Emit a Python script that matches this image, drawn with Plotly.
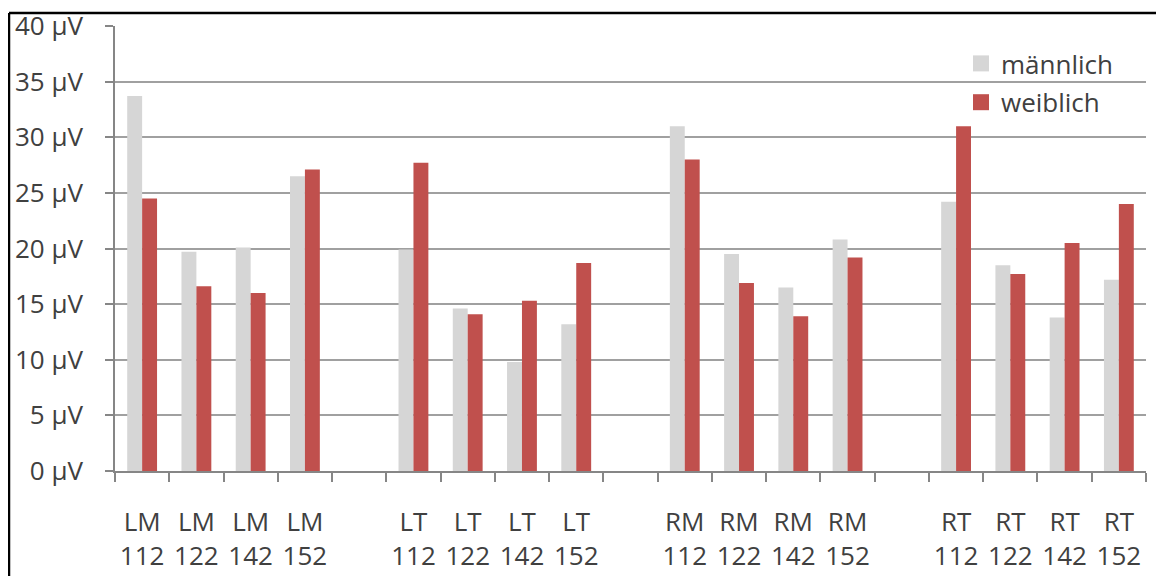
import plotly.graph_objects as go

groups = ["LM", "LT", "RM", "RT"]
codes = ["112", "122", "142", "152"]

maennlich = [33.7, 19.7, 20.1, 26.5,
             19.9, 14.6, 9.8, 13.2,
             31.0, 19.5, 16.5, 20.8,
             24.2, 18.5, 13.8, 17.2]
weiblich = [24.5, 16.6, 16.0, 27.1,
            27.7, 14.1, 15.3, 18.7,
            28.0, 16.9, 13.9, 19.2,
            31.0, 17.7, 20.5, 24.0]

y_ticks = [0, 5, 10, 15, 20, 25, 30, 35, 40]
y_tick_labels = [f"{v} µV" for v in y_ticks]

# categories with empty separator slots between groups
labels = [f"{g}<br>{c}" for g in groups for c in codes]
category_order = []
for i, g in enumerate(groups):
    category_order += [f"{g}<br>{c}" for c in codes]
    if i < len(groups) - 1:
        category_order.append(" " * (i + 1))

FONT = "Open Sans"
TXT = "#404040"
FS = 26
GRAY = "#d6d6d6"
RED = "#c0504d"

fig = go.Figure()
fig.add_trace(go.Bar(x=labels, y=maennlich, name="männlich", showlegend=False,
                     marker=dict(color=GRAY, line=dict(width=0))))
fig.add_trace(go.Bar(x=labels, y=weiblich, name="weiblich", showlegend=False,
                     marker=dict(color=RED, line=dict(width=0))))
# legend entries with larger square swatches
fig.add_trace(go.Scatter(x=[None], y=[None], mode="markers", name="männlich",
                         legendgroup="m",
                         marker=dict(symbol="square", size=16, color=GRAY)))
fig.add_trace(go.Scatter(x=[None], y=[None], mode="markers", name="weiblich",
                         legendgroup="w",
                         marker=dict(symbol="square", size=16, color=RED)))

# page body has an 8px margin; figure offset accordingly
W, H = 1156, 568
ml, mr, mt, mb = 107, 18, 18, 105
pw, ph = W - ml - mr, H - mt - mb

fig.update_layout(
    width=W, height=H,
    margin=dict(l=ml, r=mr, t=mt, b=mb, pad=0, autoexpand=False),
    paper_bgcolor="white", plot_bgcolor="white",
    barmode="group", bargap=0.45, bargroupgap=0,
    font=dict(family=FONT, size=FS, color=TXT),
    legend=dict(x=(953 - ml) / pw, y=(ph - (32 - mt)) / ph,
                xanchor="left", yanchor="top", bgcolor="rgba(0,0,0,0)",
                traceorder="grouped", tracegroupgap=2,
                font=dict(family=FONT, size=FS, color=TXT)),
    xaxis=dict(type="category", categoryorder="array", categoryarray=category_order,
               range=[-0.5, len(category_order) - 0.5], automargin=False,
               tickson="boundaries", ticks="outside", ticklen=9, tickcolor="#868686",
               tickwidth=1.5, showline=True, linecolor="#868686", linewidth=1.5,
               showgrid=False, ticklabelstandoff=27, tickangle=0,
               ticklabeloverflow="allow",
               tickfont=dict(family=FONT, size=FS, color=TXT)),
    yaxis=dict(range=[0, 40], tickvals=y_ticks, ticktext=y_tick_labels,
               automargin=False, ticklabeloverflow="allow",
               ticks="outside", ticklen=8, tickcolor="#868686", tickwidth=1.5,
               showline=True, linecolor="#868686", linewidth=1.5,
               showgrid=True, gridcolor="#a0a0a0", gridwidth=1.5,
               zeroline=False, ticklabelstandoff=17,
               tickfont=dict(family=FONT, size=FS, color=TXT)),
)

# black frame (top and left) like the cropped original
fx = (1 - ml) / pw
fy = 1 + (mt - 5) / ph
fig.add_shape(type="line", xref="paper", yref="paper", x0=fx, x1=1 + mr / pw + 0.01,
              y0=fy, y1=fy, line=dict(color="black", width=2.5))
fig.add_shape(type="line", xref="paper", yref="paper", x0=fx, x1=fx,
              y0=fy, y1=-mb / ph - 0.02, line=dict(color="black", width=2.5))

fig.write_html("out.html")
